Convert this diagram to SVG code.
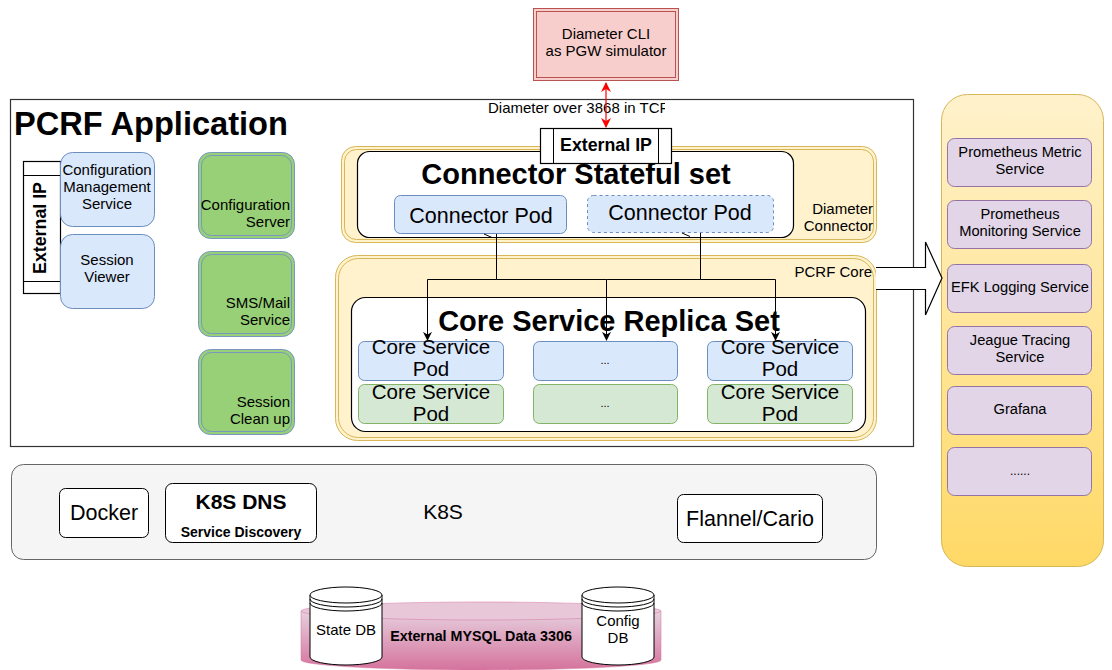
<svg xmlns="http://www.w3.org/2000/svg" width="1112" height="670" viewBox="0 0 1112 670">
  <style>
    text { font-family: "Liberation Sans", Arial, Helvetica, sans-serif; fill: #000; }
    .c { text-anchor: middle; }
    .r { text-anchor: end; }
    .b { font-weight: bold; }
    .blue { fill: #dae8fc; stroke: #6c8ebf; stroke-width: 1; }
    .green { fill: #d5e8d4; stroke: #82b366; stroke-width: 1; }
    .purple { fill: #e1d5e7; stroke: #9673a6; stroke-width: 1; }
    .yel { fill: #fff2cc; stroke: #d6b656; stroke-width: 1; }
    .lg { fill: #97d077; stroke: #7896c0; stroke-width: 1; }
    .wht { fill: #fff; stroke: #000; stroke-width: 1.2; }
    .edge { fill: none; stroke: #000; stroke-width: 1; }
    .m { font-size: 14.7px; }
    .s { font-size: 15px; }
  </style>
  <defs>
    <linearGradient id="monGrad" x1="0" y1="0" x2="0" y2="1">
      <stop offset="0" stop-color="#fff2cc"/>
      <stop offset="1" stop-color="#ffd966"/>
    </linearGradient>
    <linearGradient id="dbGrad" x1="0" y1="0" x2="0" y2="1">
      <stop offset="0" stop-color="#e6d0de"/>
      <stop offset="1" stop-color="#d5739d"/>
    </linearGradient>
    <marker id="arr" viewBox="0 0 10 10" refX="9" refY="5" markerWidth="9" markerHeight="9" orient="auto-start-reverse" markerUnits="userSpaceOnUse">
      <path d="M0,0 L10,5 L0,10 L3,5 Z" fill="#000"/>
    </marker>
    <marker id="arrRed" viewBox="0 0 10 10" refX="9" refY="5" markerWidth="10" markerHeight="10" orient="auto-start-reverse" markerUnits="userSpaceOnUse">
      <path d="M0,0 L10,5 L0,10 L3,5 Z" fill="#ff0000"/>
    </marker>
    <clipPath id="tcpClip"><rect x="480" y="95" width="185" height="20"/></clipPath>
  </defs>

  <!-- PCRF application frame -->
  <g id="pcrf-app">
    <rect x="10.5" y="99.5" width="903" height="347" fill="#fff" stroke="#333" stroke-width="1.2"/>
    <text x="14" y="135" class="b" font-size="32.6">PCRF Application</text>
  </g>

  <!-- Diameter CLI -->
  <g id="diameter-cli">
    <rect x="533.5" y="8.5" width="145" height="72" fill="#f8cecc" stroke="#b85450"/>
    <rect x="536.5" y="11.5" width="139" height="66" fill="none" stroke="#b85450"/>
    <text x="606" y="39" class="c s">Diameter CLI</text>
    <text x="606" y="56" class="c s">as PGW simulator</text>
  </g>

  <text x="488" y="113" font-size="15" clip-path="url(#tcpClip)">Diameter over 3868 in TCP</text>

  <!-- Diameter connector container -->
  <g id="diameter-connector">
    <rect x="341.5" y="146.5" width="535" height="96" rx="14" class="yel"/>
    <rect x="344.5" y="149.5" width="529" height="90" rx="12" fill="none" stroke="#d6b656"/>
    <text x="873" y="214" class="r s">Diameter</text>
    <text x="873" y="231" class="r s">Connector</text>
  </g>

  <!-- PCRF core container -->
  <g id="pcrf-core">
    <rect x="335.5" y="255.5" width="541" height="185" rx="22" class="yel"/>
    <rect x="338.5" y="258.5" width="535" height="179" rx="20" fill="none" stroke="#d6b656"/>
    <text x="872" y="277" class="r s">PCRF Core</text>
  </g>

  <!-- Connector stateful set -->
  <g id="connector-set">
    <rect x="357.5" y="151.5" width="436" height="86" rx="12" class="wht"/>
    <text x="576" y="184" class="c b" font-size="29">Connector Stateful set</text>
  </g>
  <g id="connector-pod-1">
    <rect x="394.5" y="195.5" width="172" height="38" rx="6" class="blue"/>
    <text x="481" y="223" class="c" font-size="21.5">Connector Pod</text>
  </g>
  <g id="connector-pod-2">
    <rect x="587.5" y="195.5" width="186" height="37" rx="6" class="blue" stroke-dasharray="3 3"/>
    <text x="680" y="220" class="c" font-size="21.5">Connector Pod</text>
  </g>

  <!-- External IP on the connector -->
  <g id="external-ip-top">
    <rect x="540.5" y="128.5" width="131" height="35" class="wht"/>
    <line x1="553.5" y1="128.5" x2="553.5" y2="163.5" stroke="#000"/>
    <line x1="658.5" y1="128.5" x2="658.5" y2="163.5" stroke="#000"/>
    <text x="606" y="151" class="c b" font-size="17.8">External IP</text>
  </g>

  <!-- Core service replica set -->
  <g id="core-replica-set">
    <rect x="351.5" y="297.5" width="514" height="134" rx="14" class="wht"/>
    <text x="609" y="331" class="c b" font-size="29">Core Service Replica Set</text>
  </g>
  <g id="core-pod-1">
    <rect x="358.5" y="341.5" width="145" height="39" rx="6" class="blue"/>
    <text x="431" y="354" class="c" font-size="20.5">Core Service</text>
    <text x="431" y="376" class="c" font-size="20.5">Pod</text>
  </g>
  <g id="core-pod-2">
    <rect x="533.5" y="341.5" width="144" height="39" rx="6" class="blue"/>
    <text x="605" y="364" class="c" font-size="11">...</text>
  </g>
  <g id="core-pod-3">
    <rect x="707.5" y="341.5" width="145" height="39" rx="6" class="blue"/>
    <text x="780" y="354" class="c" font-size="20.5">Core Service</text>
    <text x="780" y="376" class="c" font-size="20.5">Pod</text>
  </g>
  <g id="core-pod-4">
    <rect x="358.5" y="384.5" width="145" height="39" rx="6" class="green"/>
    <text x="431" y="399" class="c" font-size="20.5">Core Service</text>
    <text x="431" y="421" class="c" font-size="20.5">Pod</text>
  </g>
  <g id="core-pod-5">
    <rect x="533.5" y="384.5" width="144" height="39" rx="6" class="green"/>
    <text x="605" y="407" class="c" font-size="11">...</text>
  </g>
  <g id="core-pod-6">
    <rect x="707.5" y="384.5" width="145" height="39" rx="6" class="green"/>
    <text x="780" y="399" class="c" font-size="20.5">Core Service</text>
    <text x="780" y="421" class="c" font-size="20.5">Pod</text>
  </g>

  <!-- Left side services -->
  <g id="external-ip-left">
    <rect x="23.5" y="161.5" width="37" height="132" class="wht"/>
    <line x1="23.5" y1="175.5" x2="60.5" y2="175.5" stroke="#000"/>
    <line x1="23.5" y1="281.5" x2="60.5" y2="281.5" stroke="#000"/>
    <text transform="translate(46 228) rotate(-90)" class="c b" font-size="17.8">External IP</text>
  </g>
  <g id="config-mgmt">
    <rect x="60.5" y="152.5" width="94" height="74" rx="12" class="blue"/>
    <text x="107" y="175" class="c s">Configuration</text>
    <text x="107" y="192" class="c s">Management</text>
    <text x="107" y="209" class="c s">Service</text>
  </g>
  <g id="session-viewer">
    <rect x="60.5" y="234.5" width="94" height="74" rx="12" class="blue"/>
    <text x="107" y="265" class="c s">Session</text>
    <text x="107" y="282" class="c s">Viewer</text>
  </g>
  <g id="config-server">
    <rect x="198.5" y="152.5" width="96" height="86" rx="12" class="lg"/>
    <rect x="201.5" y="155.5" width="90" height="80" rx="10" fill="none" stroke="#7896c0"/>
    <text x="290" y="210" class="r s">Configuration</text>
    <text x="290" y="227" class="r s">Server</text>
  </g>
  <g id="sms-mail">
    <rect x="198.5" y="251.5" width="96" height="85" rx="12" class="lg"/>
    <rect x="201.5" y="254.5" width="90" height="79" rx="10" fill="none" stroke="#7896c0"/>
    <text x="290" y="308" class="r s">SMS/Mail</text>
    <text x="290" y="325" class="r s">Service</text>
  </g>
  <g id="session-cleanup">
    <rect x="198.5" y="349.5" width="96" height="85" rx="12" class="lg"/>
    <rect x="201.5" y="352.5" width="90" height="79" rx="10" fill="none" stroke="#7896c0"/>
    <text x="290" y="407" class="r s">Session</text>
    <text x="290" y="424" class="r s">Clean up</text>
  </g>

  <!-- K8S layer -->
  <g id="k8s">
    <rect x="11.5" y="464.5" width="865" height="95" rx="12" fill="#f5f5f5" stroke="#666"/>
    <text x="443" y="519" class="c" font-size="21">K8S</text>
  </g>
  <g id="docker">
    <rect x="59.5" y="488.5" width="89" height="49" rx="6" fill="#fff" stroke="#000"/>
    <text x="104" y="520" class="c" font-size="21.5">Docker</text>
  </g>
  <g id="k8s-dns">
    <rect x="165.5" y="483.5" width="151" height="59" rx="7" fill="#fff" stroke="#000"/>
    <text x="241" y="509" class="c b" font-size="21">K8S DNS</text>
    <text x="241" y="537" class="c b" font-size="14">Service Discovery</text>
  </g>
  <g id="flannel">
    <rect x="677.5" y="494.5" width="145" height="48" rx="6" fill="#fff" stroke="#000"/>
    <text x="750" y="526" class="c" font-size="21.5">Flannel/Cario</text>
  </g>

  <!-- External MySQL -->
  <g id="mysql">
    <path d="M301,611 L301,660 A180,10 0 0 0 661,660 L661,611 Z" fill="url(#dbGrad)" stroke="#d5739d" stroke-opacity="0.5"/>
    <ellipse cx="481" cy="611" rx="180" ry="9" fill="#e8c7d9" stroke="#d5739d" stroke-opacity="0.5"/>
    <text x="481" y="641" class="c b" font-size="14.3">External MYSQL Data 3306</text>
  </g>
  <g id="state-db">
    <path d="M310,595 L310,657 A36,8 0 0 0 382,657 L382,595" fill="#fff" stroke="#000"/>
    <ellipse cx="346" cy="595" rx="36" ry="8" fill="#fff" stroke="#000"/>
    <path d="M310,599 A36,8 0 0 0 382,599 M310,603 A36,8 0 0 0 382,603" fill="none" stroke="#000"/>
    <text x="346" y="635" class="c s">State DB</text>
  </g>
  <g id="config-db">
    <path d="M582,595 L582,657 A36,8 0 0 0 654,657 L654,595" fill="#fff" stroke="#000"/>
    <ellipse cx="618" cy="595" rx="36" ry="8" fill="#fff" stroke="#000"/>
    <path d="M582,599 A36,8 0 0 0 654,599 M582,603 A36,8 0 0 0 654,603" fill="none" stroke="#000"/>
    <text x="618" y="626" class="c s">Config</text>
    <text x="618" y="643" class="c s">DB</text>
  </g>

  <!-- Monitoring column -->
  <g id="monitoring">
    <rect x="941.5" y="94.5" width="162" height="472" rx="26" fill="url(#monGrad)" stroke="#d6b656"/>
  </g>
  <g id="prom-metric">
    <rect x="947.5" y="138.5" width="144" height="48" rx="7" class="purple"/>
    <text x="1020" y="157" class="c m">Prometheus Metric</text>
    <text x="1020" y="174" class="c m">Service</text>
  </g>
  <g id="prom-monitor">
    <rect x="947.5" y="200.5" width="144" height="48" rx="7" class="purple"/>
    <text x="1020" y="219" class="c m">Prometheus</text>
    <text x="1020" y="236" class="c m">Monitoring Service</text>
  </g>
  <g id="efk">
    <rect x="947.5" y="264.5" width="144" height="48" rx="7" class="purple"/>
    <text x="1020" y="292" class="c m">EFK Logging Service</text>
  </g>
  <g id="jaeger">
    <rect x="947.5" y="326.5" width="144" height="48" rx="7" class="purple"/>
    <text x="1020" y="345" class="c m">Jeague Tracing</text>
    <text x="1020" y="362" class="c m">Service</text>
  </g>
  <g id="grafana">
    <rect x="947.5" y="386.5" width="144" height="48" rx="7" class="purple"/>
    <text x="1020" y="414" class="c m">Grafana</text>
  </g>
  <g id="more">
    <rect x="947.5" y="447.5" width="144" height="48" rx="7" class="purple"/>
    <text x="1020" y="475" class="c" font-size="12">......</text>
  </g>

  <!-- Connectors -->
  <g id="connectors">
    <line x1="606" y1="83" x2="606" y2="127" stroke="#ff0000" stroke-width="1.2" marker-start="url(#arrRed)" marker-end="url(#arrRed)"/>
    <path class="edge" d="M496.5,234 L496.5,279.5 L427.5,279.5 L427.5,340" marker-end="url(#arr)"/>
    <path class="edge" d="M496.5,279.5 L606.5,279.5 L606.5,340" marker-end="url(#arr)"/>
    <path class="edge" d="M700.5,233 L700.5,279.5 L775.5,279.5 L775.5,340" marker-end="url(#arr)"/>
    <path class="edge" d="M606.5,279.5 L700.5,279.5"/>
    <path class="edge" d="M484,234 L492,237.5 M682,233 L690,236.5" stroke-width="1.3"/>
    <path d="M876,267.5 L925.5,267.5 L925.5,242 L942,278 L925.5,315 L925.5,289.5 L876,289.5" fill="#fff" stroke="#000" stroke-width="1.2"/>
  </g>
</svg>
